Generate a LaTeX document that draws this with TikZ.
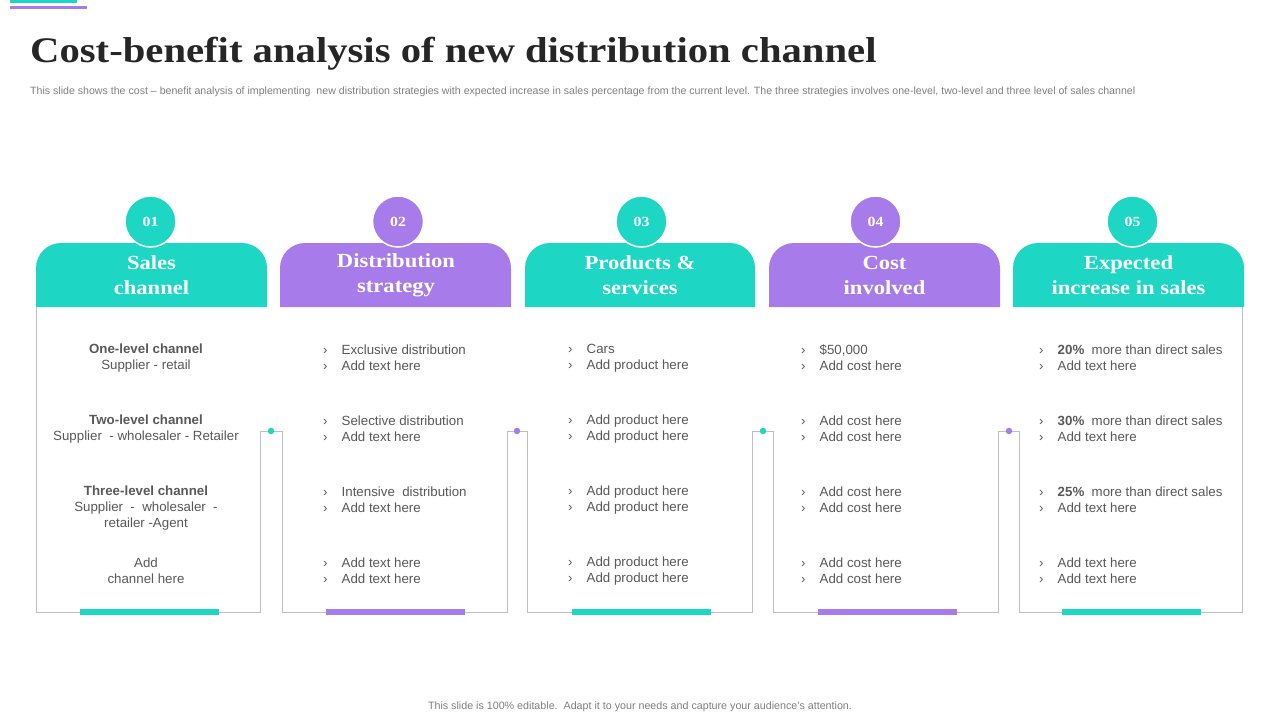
\documentclass[tikz,border=0pt]{standalone}
\usepackage{fontspec}
\setmainfont{Liberation Sans}
\newfontfamily\titlefont[FakeStretch=1.13]{Liberation Serif}
\definecolor{tealc}{HTML}{1DD6C4}
\definecolor{purpc}{HTML}{A77BEA}
\definecolor{txtgray}{HTML}{595959}
\definecolor{lgray}{HTML}{BFBFBF}
\definecolor{dark}{HTML}{262626}
\newcommand{\chev}{\makebox[18.5pt][l]{›}}

\begin{document}
\begin{tikzpicture}[x=1pt, y=-1pt,
htext/.style={text=white, align=center, font=\titlefont\bfseries\fontsize{20}{25}\selectfont},
num/.style={circle, draw=white, line width=1.5pt, minimum size=51pt, inner sep=0pt, text=white, font=\titlefont\bfseries\fontsize{14}{14}\selectfont},
body/.style={text=txtgray, inner sep=0pt, font=\fontsize{13.3}{16}\selectfont},
ctr/.style={body, align=center},
lft/.style={body, align=left, anchor=west},
frame/.style={draw=lgray, line width=1pt},
dot/.style={circle, inner sep=0pt, minimum size=6.5pt},
bar/.style={line width=5.5pt}]
\useasboundingbox[fill=white] (0,0) rectangle (1280,720);

\fill[tealc] (10,0) rectangle (77,3);
\fill[purpc] (10,5.7) rectangle (87,8.7);

\node[anchor=base west, inner sep=0pt, text=dark, font=\titlefont\bfseries\fontsize{36}{40}\selectfont] (title) at (30,62) {Cost-benefit analysis of new distribution channel};
\node[anchor=base west, inner sep=0pt, text=gray, font=\fontsize{10.6}{12}\selectfont] (sub) at (30,94) {This slide shows the cost -- benefit analysis of implementing\ \ new distribution strategies with expected increase in sales percentage from the current level. The three strategies involves one-level, two-level and three level of sales channel};

\fill[tealc] (36,307) [rounded corners=25pt] -- (36,243) -- (267,243) [sharp corners] -- (267,307) -- cycle;
\fill[purpc] (280,307) [rounded corners=25pt] -- (280,243) -- (511,243) [sharp corners] -- (511,307) -- cycle;
\fill[tealc] (525,307) [rounded corners=25pt] -- (525,243) -- (755,243) [sharp corners] -- (755,307) -- cycle;
\fill[purpc] (769,307) [rounded corners=25pt] -- (769,243) -- (1000,243) [sharp corners] -- (1000,307) -- cycle;
\fill[tealc] (1013,307) [rounded corners=25pt] -- (1013,243) -- (1244,243) [sharp corners] -- (1244,307) -- cycle;

\node[htext] (h1) at (151.5,275) {Sales\\channel};
\node[htext] (h2) at (396,275) {Distribution\\strategy};
\node[htext] (h3) at (640,275) {Products \&\\services};
\node[htext] (h4) at (884.5,275) {Cost\\involved};
\node[htext] (h5) at (1128.5,275) {Expected\\increase in sales};

\node[num, fill=tealc] (n1) at (150.5,221.5) {01};
\node[num, fill=purpc] (n2) at (398,221.5) {02};
\node[num, fill=tealc] (n3) at (641.5,221.5) {03};
\node[num, fill=purpc] (n4) at (875.5,221.5) {04};
\node[num, fill=tealc] (n5) at (1132.5,221.5) {05};

\node[dot, fill=tealc] (dot1) at (271,431) {};
\node[dot, fill=purpc] (dot2) at (517,431) {};
\node[dot, fill=tealc] (dot3) at (763,431) {};
\node[dot, fill=purpc] (dot4) at (1009,431) {};

\draw[frame] (36,307) -- (36,612) -- (260,612) |- (dot1) -| (282,612) -- (507,612) |- (dot2) -| (527,612) -- (752,612) |- (dot3) -| (773,612) -- (998,612) |- (dot4) -| (1019,612) -- (1242,612) -- (1242,307);

\draw[bar, tealc] (80,612) -- (219,612);
\draw[bar, purpc] (326,612) -- (465,612);
\draw[bar, tealc] (572,612) -- (711,612);
\draw[bar, purpc] (818,612) -- (957,612);
\draw[bar, tealc] (1062,612) -- (1201,612);

\node[ctr] (sc1) at (146,358) {\textbf{One-level channel}\\Supplier - retail};
\node[ctr] (sc2) at (146,429) {\textbf{Two-level channel}\\Supplier\ \ - wholesaler\ - Retailer};
\node[ctr] (sc3) at (146,508) {\textbf{Three-level channel}\\Supplier\ \ -\ \ wholesaler\ \ -\\retailer -Agent};
\node[ctr] (sc4) at (146,571) {Add\\channel here};

\node[lft] (ds1) at (323,358) {\chev Exclusive distribution\\\chev Add text here};
\node[lft] (ds2) at (323,429) {\chev Selective distribution\\\chev Add text here};
\node[lft] (ds3) at (323,500) {\chev Intensive\ \ distribution\\\chev Add text here};
\node[lft] (ds4) at (323,571) {\chev Add text here\\\chev Add text here};

\node[lft] (ps1) at (568,358) {\chev Cars\\\chev Add product here};
\node[lft] (ps2) at (568,429) {\chev Add product here\\\chev Add product here};
\node[lft] (ps3) at (568,500) {\chev Add product here\\\chev Add product here};
\node[lft] (ps4) at (568,571) {\chev Add product here\\\chev Add product here};

\node[lft] (ci1) at (801,358) {\chev \$50,000\\\chev Add cost here};
\node[lft] (ci2) at (801,429) {\chev Add cost here\\\chev Add cost here};
\node[lft] (ci3) at (801,500) {\chev Add cost here\\\chev Add cost here};
\node[lft] (ci4) at (801,571) {\chev Add cost here\\\chev Add cost here};

\node[lft] (es1) at (1039,358) {\chev \textbf{20\%}\ \ more than direct sales\\\chev Add text here};
\node[lft] (es2) at (1039,429) {\chev \textbf{30\%}\ \ more than direct sales\\\chev Add text here};
\node[lft] (es3) at (1039,500) {\chev \textbf{25\%}\ \ more than direct sales\\\chev Add text here};
\node[lft] (es4) at (1039,571) {\chev Add text here\\\chev Add text here};

\node[inner sep=0pt, text=gray, font=\fontsize{10.7}{12}\selectfont] (foot) at (640,707) {This slide is 100\% editable.\ \ Adapt it to your needs and capture your audience's attention.};
\end{tikzpicture}
\end{document}
